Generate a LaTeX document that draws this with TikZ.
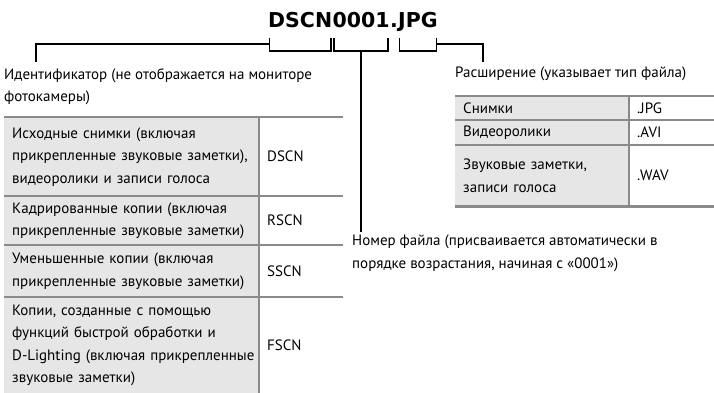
\documentclass[tikz,border=0pt]{standalone}
\usepackage{fontspec}
\setmainfont{PT Sans}
\newfontfamily\titlefont{DejaVu Sans}
\usetikzlibrary{positioning}
\definecolor{cellFl}{HTML}{E6E6E6}
\definecolor{ruleBd}{HTML}{8A8A8A}
\newcommand{\hd}{\titlefont\fontsize{20.5}{24}\selectfont\bfseries}
\newcommand{\bd}{\fontsize{15}{22.5}\selectfont}

\begin{document}
\begin{tikzpicture}[
  x=1pt, y=1pt,
  font=\bd,
  part/.style={inner sep=0pt, font=\hd, anchor=base west},
  lbl/.style={inner sep=0pt, anchor=north west, align=left},
  lead/.style={line width=1.8pt},
  cell/.style={anchor=north west, inner xsep=8pt, inner ysep=0pt, align=left},
  keycell/.style={cell, fill=cellFl},
  rule/.style={draw=ruleBd, line width=2.6pt},
  divider/.style={draw=ruleBd, line width=2pt},
]
\useasboundingbox (0,0) rectangle (714,-393);

% ---------------------------- the file name -------------------------------
% set in four pieces, so that every bracket can find its own letters
\node[part] (pre) at (268,-28) {DSCN};
\node[part] (num) at (pre.base east) {0001};
\node[part] (dot) at (num.base east) {.};
\node[part] (ext) at (dot.base east) {JPG};

\coordinate (top) at (0,-38);
\coordinate (mid) at (0,-44);
\coordinate (bot) at (0,-51);

% ---------------------------- the three labels ----------------------------
\node[lbl] (ident) at (4,-68)
  {Идентификатор (не отображается на мониторе\\фотокамеры)};
\node[lbl] (extlbl) at (455,-67) {Расширение (указывает тип файла)};
\node[lbl] (numlbl) at (352,-235)
  {Номер файла (присваивается автоматически в\\порядке возрастания, начиная с «0001»)};

% ---------------------------- brackets and leaders ------------------------
\foreach \p in {pre,num,ext}
  \draw[lead] ([xshift=1.5pt]\p.west |- top) -- ([xshift=1.5pt]\p.west |- bot)
    -- ([xshift=-1.5pt]\p.east |- bot) -- ([xshift=-1.5pt]\p.east |- top);

\coordinate (identTip) at ([xshift=32pt,yshift=6pt]ident.north west);
\coordinate (extTip)   at ([xshift=28pt,yshift=5pt]extlbl.north west);
\coordinate (numTip)   at ([yshift=3pt]numlbl.north west);

\draw[lead] ([xshift=1.5pt]pre.west |- mid) -| (identTip);
\draw[lead] ([xshift=-1.5pt]ext.east |- mid) -| (extTip);
\draw[lead] (num.south |- bot) -- (numTip -| num.south);

% ---------------------------- identifiers ---------------------------------
\node[keycell, text width=239pt, minimum height=79pt] (key-orig) at (4,-117)
  {Исходные снимки (включая\\прикрепленные звуковые заметки),\\видеоролики и записи голоса};
\node[cell, text width=68pt, minimum height=79pt] (val-orig) at (259,-117) {DSCN};

\node[keycell, text width=239pt, minimum height=49pt] (key-crop) at (4,-196)
  {Кадрированные копии (включая\\прикрепленные звуковые заметки)};
\node[cell, text width=68pt, minimum height=49pt] (val-crop) at (259,-196) {RSCN};

\node[keycell, text width=239pt, minimum height=52pt] (key-small) at (4,-245)
  {Уменьшенные копии (включая\\прикрепленные звуковые заметки)};
\node[cell, text width=68pt, minimum height=52pt] (val-small) at (259,-245) {SSCN};

\node[keycell, text width=239pt, minimum height=96pt] (key-fix) at (4,-297)
  {Копии, созданные с помощью\\функций быстрой обработки и\\\mbox{D-Lighting (включая прикрепленные}\\звуковые заметки)};
\node[cell, text width=68pt, minimum height=96pt] (val-fix) at (259,-297) {FSCN};

% ---------------------------- extensions ----------------------------------
\node[keycell, text width=158pt, minimum height=24pt] (key-jpg) at (455,-96) {Снимки};
\node[cell, text width=69pt, minimum height=24pt] (val-jpg) at (629,-96) {.JPG};

\node[keycell, text width=158pt, minimum height=25pt] (key-avi) at (455,-120) {Видеоролики};
\node[cell, text width=69pt, minimum height=25pt] (val-avi) at (629,-120) {.AVI};

\node[keycell, text width=158pt, minimum height=61pt] (key-wav) at (455,-145)
  {Звуковые заметки,\\записи голоса};
\node[cell, text width=69pt, minimum height=61pt] (val-wav) at (629,-145) {.WAV};

% ---------------------------- table rules ---------------------------------
\foreach \r in {orig,crop,small,fix,jpg,avi,wav}
  \draw[rule] (key-\r.north west) -- (val-\r.north east);
\draw[rule] (key-wav.south west) -- (val-wav.south east);

\draw[divider] (val-orig.north west) -- (val-fix.south west);
\draw[divider] (val-jpg.north west) -- (val-wav.south west);

\end{tikzpicture}
\end{document}
